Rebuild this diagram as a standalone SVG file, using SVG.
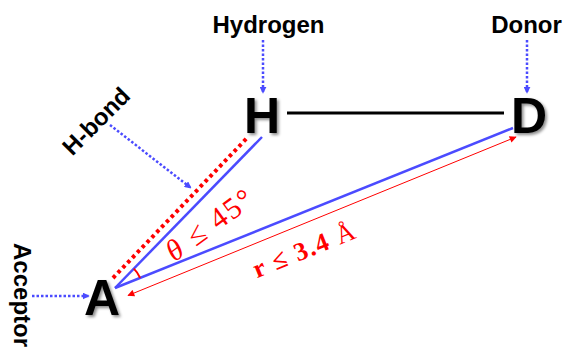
<svg xmlns="http://www.w3.org/2000/svg" width="564" height="347" viewBox="0 0 564 347">
  <defs>
    <filter id="shadow" x="-30%" y="-30%" width="160%" height="160%">
      <feDropShadow dx="2" dy="2" stdDeviation="1.5" flood-color="#000" flood-opacity="0.45"/>
    </filter>
    <marker id="bluehead" viewBox="0 0 10 10" refX="9" refY="5" markerWidth="7" markerHeight="7" orient="auto" markerUnits="userSpaceOnUse">
      <path d="M0,0 L10,5 L0,10 z" fill="#4B4BFF"/>
    </marker>
    <marker id="redhead" viewBox="0 0 10 10" refX="9" refY="5" markerWidth="8" markerHeight="7" orient="auto-start-reverse" markerUnits="userSpaceOnUse">
      <path d="M0,0 L10,5 L0,10 z" fill="#FF0000"/>
    </marker>
  </defs>
  <style>
    .lbl { font-family: "Liberation Sans", Arial, sans-serif; font-weight: bold; font-size: 24px; fill: #000; }
    .atom { font-family: "Liberation Sans", Arial, sans-serif; font-weight: bold; font-size: 50px; fill: #000; filter: url(#shadow); }
    .math { font-family: "Liberation Serif", "Times New Roman", serif; fill: #FF0000; }
    .ptr { stroke: #4B4BFF; stroke-width: 2.5; stroke-dasharray: 2.5 2; fill: none; marker-end: url(#bluehead); }
    .bond { stroke: #4B4BFF; stroke-width: 2.5; fill: none; }
  </style>
  <rect width="564" height="347" fill="#fff"/>

  <g id="connectors">
    <line id="hd-bond" x1="287" y1="113" x2="504" y2="113" stroke="#000" stroke-width="3"/>
    <line id="hbond-dotted" x1="113" y1="278" x2="248" y2="137" stroke="#FF0000" stroke-width="4" stroke-dasharray="3.5 3.5"/>
    <line id="a-h" class="bond" x1="115" y1="288" x2="262" y2="137"/>
    <line id="a-d" class="bond" x1="115" y1="288" x2="513" y2="128"/>
    <line id="r-arrow" x1="128" y1="295.5" x2="516" y2="137" stroke="#FF0000" stroke-width="1" marker-start="url(#redhead)" marker-end="url(#redhead)"/>
    <path id="theta-arc" d="M133.8,268.6 A27,27 0 0 1 140.1,277.9" stroke="#FF0000" stroke-width="2" fill="none"/>
    <line id="ptr-hydrogen" class="ptr" x1="263" y1="40" x2="263" y2="93"/>
    <line id="ptr-donor" class="ptr" x1="527" y1="40" x2="527" y2="93"/>
    <line id="ptr-acceptor" class="ptr" x1="32" y1="296" x2="89" y2="296"/>
    <line id="ptr-hbond" class="ptr" x1="110" y1="125" x2="191" y2="188"/>
  </g>

  <g id="node-H"><text class="atom" x="244" y="133">H</text></g>
  <g id="node-D"><text class="atom" x="511" y="133">D</text></g>
  <g id="node-A"><text class="atom" x="84" y="315">A</text></g>

  <g id="label-hydrogen"><text class="lbl" x="268.5" y="33" text-anchor="middle">Hydrogen</text></g>
  <g id="label-donor"><text class="lbl" x="526.5" y="33" text-anchor="middle">Donor</text></g>
  <g id="label-acceptor"><text class="lbl" x="14" y="243" font-size="23" transform="rotate(90 14 243)">Acceptor</text></g>
  <g id="label-hbond"><text class="lbl" x="102" y="127" text-anchor="middle" transform="rotate(-45 102 127)">H-bond</text></g>

  <g id="label-theta"><text class="math" x="215" y="233" font-size="30" text-anchor="middle" transform="rotate(-36 215 233)" textLength="100" lengthAdjust="spacing"><tspan font-style="italic">θ</tspan> ≤ 45°</text></g>
  <g id="label-r"><text class="math" x="307" y="258" font-size="26" text-anchor="middle" transform="rotate(-22 307 258)" textLength="108" lengthAdjust="spacing"><tspan font-weight="bold">r ≤ 3.4</tspan> Å</text></g>
</svg>
